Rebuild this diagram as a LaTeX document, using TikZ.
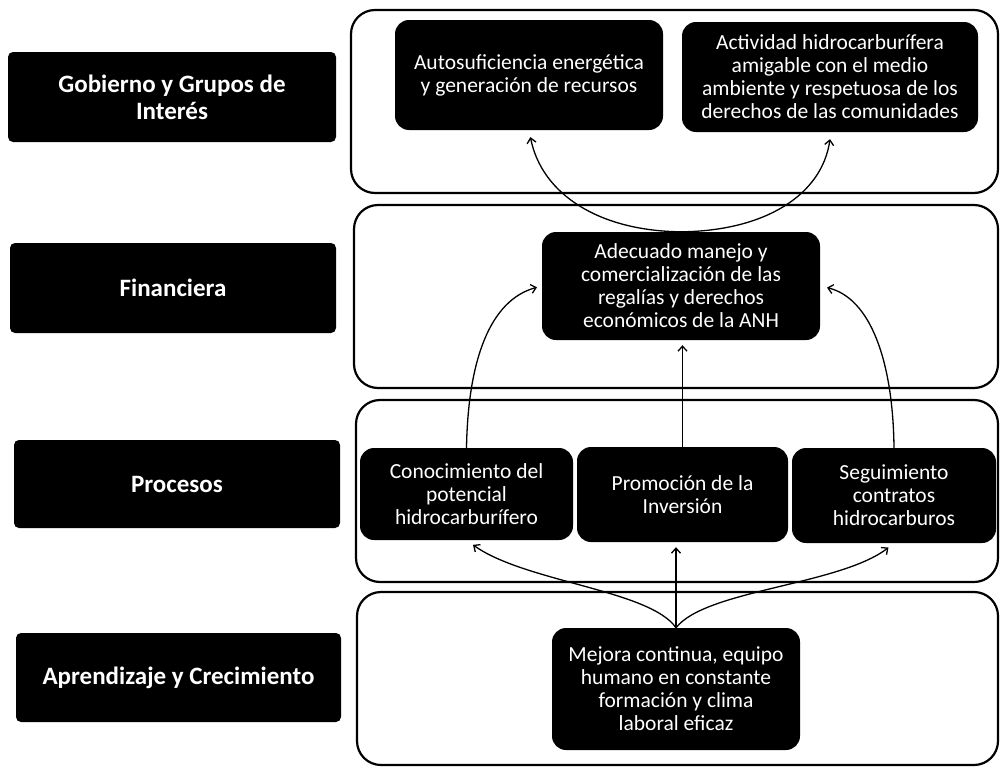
\documentclass[tikz,border=0pt]{standalone}
\usepackage{fontspec}
\setmainfont{Carlito}
\usetikzlibrary{arrows.meta}
\begin{document}
\begin{tikzpicture}[x=1pt,y=-1pt,
  panel/.style={draw=black,line width=2.2pt,rounded corners=24pt},
  lbl/.style={fill=black,rounded corners=5pt,text=white,font=\fontsize{25}{27}\selectfont\bfseries,align=center,inner sep=0pt},
  goal/.style={fill=black,rounded corners=14pt,text=white,font=\fontsize{21.5}{23}\selectfont,align=center,inner sep=0pt},
  arr/.style={line width=1.3pt,-{Straight Barb[length=5pt,width=9pt]}}]
\useasboundingbox (0,0) rectangle (1001,771);
% panels
\draw[panel] (351,10) rectangle (998,193);
\draw[panel] (354,205) rectangle (998,388);
\draw[panel] (356,400) rectangle (998,582);
\draw[panel] (357,592) rectangle (998,765);
% left labels
\node[lbl,minimum width=328pt,minimum height=90pt] (L1) at (172,97) {Gobierno y Grupos de\\Interés};
\node[lbl,minimum width=326pt,minimum height=90pt] (L2) at (173,288) {Financiera};
\node[lbl,minimum width=326pt,minimum height=88pt] (L3) at (177,484) {Procesos};
\node[lbl,minimum width=325pt,minimum height=89pt] (L4) at (178.5,677.5) {Aprendizaje y Crecimiento};
% goals
\node[goal,minimum width=268pt,minimum height=110pt] (A1) at (529,75) {Autosuficiencia energética\\y generación de recursos};
\node[goal,minimum width=296pt,minimum height=110pt] (A2) at (830,77) {Actividad hidrocarburífera\\amigable con el medio\\ambiente y respetuosa de los\\derechos de las comunidades};
\node[goal,minimum width=278pt,minimum height=108pt] (F) at (681,286) {Adecuado manejo y\\comercialización de las\\regalías y derechos\\económicos de la ANH};
\node[goal,minimum width=213pt,minimum height=92pt] (C) at (466.5,494) {Conocimiento del\\potencial\\hidrocarburífero};
\node[goal,minimum width=211pt,minimum height=95pt] (PR) at (682.5,494.5) {Promoción de la\\Inversión};
\node[goal,minimum width=204pt,minimum height=95pt] (S) at (894,495.5) {Seguimiento\\contratos\\hidrocarburos};
\node[goal,minimum width=248pt,minimum height=122pt] (M) at (676,689) {Mejora continua, equipo\\humano en constante\\formación y clima\\laboral eficaz};
% connectors
\draw[arr,shorten >=7pt] (F.north) .. controls (600,231) and (542,195) .. (A1.south);
\draw[arr,shorten >=7pt] (F.north) .. controls (765,231) and (822,195) .. ([xshift=1pt]A2.south);
\draw[arr,shorten >=5pt] (C.north) .. controls (468,360) and (490,300) .. (F.west);
\draw[arr,shorten >=7pt] (S.north) .. controls (893,360) and (870,298) .. (F.east);
\draw[arr,shorten >=5pt] (PR.north) -- (PR.north |- F.south);
\draw[arr,shorten >=5pt] (M.north) -- (M.north |- PR.south);
\draw[arr,shorten >=8pt] (M.north) .. controls (650,590) and (525,582) .. (C.south);
\draw[arr,shorten >=7pt] (M.north) .. controls (705,590) and (840,585) .. (S.south);
\end{tikzpicture}
\end{document}
